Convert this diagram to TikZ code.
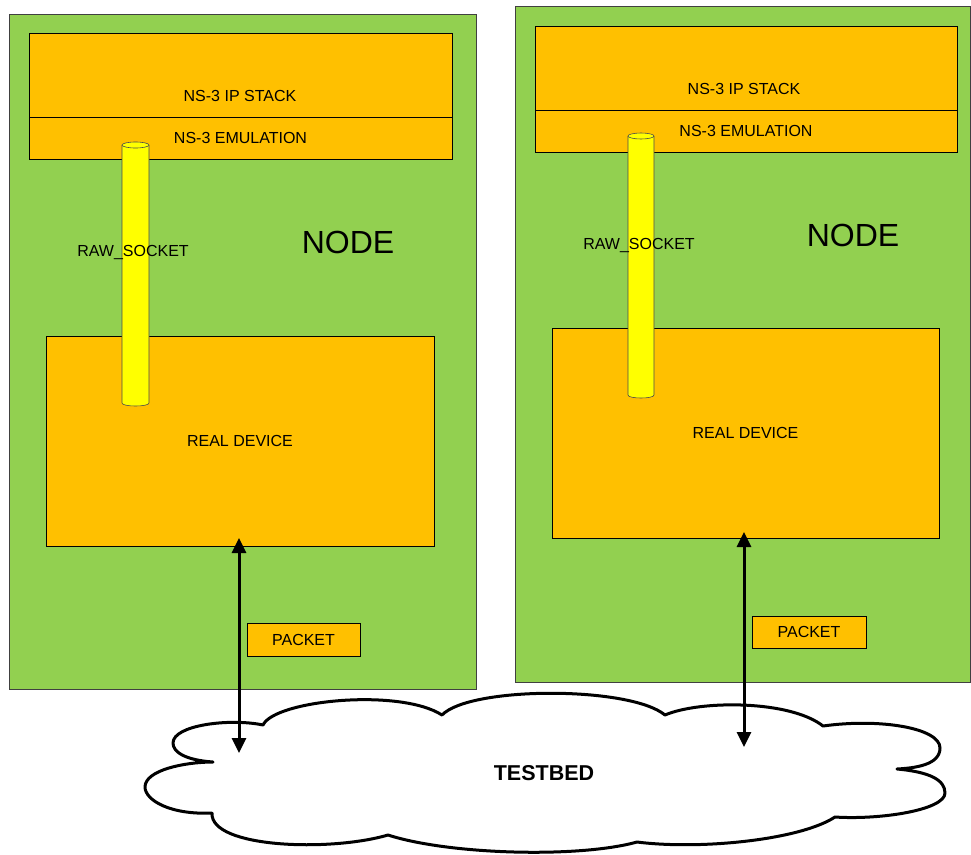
\documentclass[tikz,border=0pt]{standalone}
\usepackage{fontspec}
\setmainfont{Liberation Sans}
\usetikzlibrary{arrows.meta}
\definecolor{nodegreen}{HTML}{92D050}
\definecolor{boxorange}{HTML}{FFC000}
\definecolor{sockyellow}{HTML}{FFFF00}
\begin{document}
\begin{tikzpicture}[x=1pt,y=-1pt,
  greenbox/.style={draw=black!75, line width=0.8pt, fill=nodegreen, inner sep=0pt},
  orangebox/.style={draw=black, line width=0.8pt, fill=boxorange, inner sep=0pt, font=\fontsize{16}{18}\selectfont},
  txt/.style={font=\fontsize{16}{18}\selectfont, inner sep=0pt},
  bigtxt/.style={font=\fontsize{32}{36}\selectfont, inner sep=0pt},
  cloudtxt/.style={font=\bfseries\fontsize{21.5}{24}\selectfont, inner sep=0pt},
  cyl/.style={draw=black!70, line width=0.6pt, fill=sockyellow},
  pktarrow/.style={{Triangle[width=14pt,length=15pt]}-{Triangle[width=14pt,length=15pt]}, line width=3pt},
  cloudline/.style={draw=black, line width=3pt, fill=white, line join=round}]
\useasboundingbox (0,0) rectangle (971,854);

% green node boxes
\node[greenbox, minimum width=467pt, minimum height=675pt] (nodeL) at (242.5,351.5) {};
\node[greenbox, minimum width=455pt, minimum height=676pt] (nodeR) at (742.5,344) {};

% left node contents
\node[orangebox, minimum width=423pt, minimum height=84pt] (stackL) at (240.5,75) {};
\node[orangebox, minimum width=423pt, minimum height=42pt] (emuL) at (240.5,138) {NS-3 EMULATION};
\node[txt] (stackLt) at (240,96) {NS-3 IP STACK};
\node[orangebox, minimum width=388pt, minimum height=210pt] (realL) at (240,441) {REAL DEVICE};
\node[orangebox, minimum width=113pt, minimum height=33pt] (pktL) at (303.5,639.5) {PACKET};

% right node contents
\node[orangebox, minimum width=422pt, minimum height=84pt] (stackR) at (746,68) {};
\node[orangebox, minimum width=422pt, minimum height=42pt] (emuR) at (746,131) {NS-3 EMULATION};
\node[txt] (stackRt) at (744,89) {NS-3 IP STACK};
\node[orangebox, minimum width=387pt, minimum height=210pt] (realR) at (745.5,433) {REAL DEVICE};
\node[orangebox, minimum width=114pt, minimum height=32pt] (pktR) at (809,632) {PACKET};

% cylinders (raw sockets)
\draw[cyl] (122,145) -- (122,403) .. controls (122,407) and (149,407) .. (149,403) -- (149,145);
\draw[cyl] (135.5,145) ellipse [x radius=13.5pt, y radius=3pt];
\draw[cyl] (628,136) -- (628,395) .. controls (628,399) and (654,399) .. (654,395) -- (654,136);
\draw[cyl] (641,136) ellipse [x radius=13pt, y radius=3pt];

% labels
\node[txt, anchor=base] (rawL) at (133,256.7) {RAW\_SOCKET};
\node[txt, anchor=base] (rawR) at (639,249.7) {RAW\_SOCKET};
\node[bigtxt] (nodeLt) at (348,242) {NODE};
\node[bigtxt] (nodeRt) at (853,235) {NODE};

% cloud
\draw[cloudline] (263,725)
  .. controls (275,700) and (400,688) .. (442,715)
  .. controls (470,686) and (630,686) .. (665,715)
  .. controls (700,700) and (790,700) .. (823,726)
  .. controls (880,718) and (940,728) .. (940,748)
  .. controls (940,765) and (915,768) .. (897,769)
  .. controls (930,772) and (945,780) .. (945,793)
  .. controls (945,810) and (880,820) .. (835,817)
  .. controls (800,840) and (700,850) .. (637,842)
  .. controls (580,858) and (450,855) .. (388,835)
  .. controls (330,852) and (210,848) .. (212,813)
  .. controls (170,815) and (145,800) .. (145,787)
  .. controls (145,770) and (185,762) .. (213,762)
  .. controls (185,760) and (173,752) .. (173,743)
  .. controls (173,725) and (230,718) .. (263,725) -- cycle;
\node[cloudtxt] (testbed) at (544,773) {TESTBED};

% packet arrows
\coordinate (aLtop) at (239,538);
\coordinate (aLbot) at (239,753);
\coordinate (aRtop) at (744,532);
\coordinate (aRbot) at (744,747);
\draw[pktarrow] (aLtop) -- (aLbot);
\draw[pktarrow] (aRtop) -- (aRbot);
\end{tikzpicture}
\end{document}
